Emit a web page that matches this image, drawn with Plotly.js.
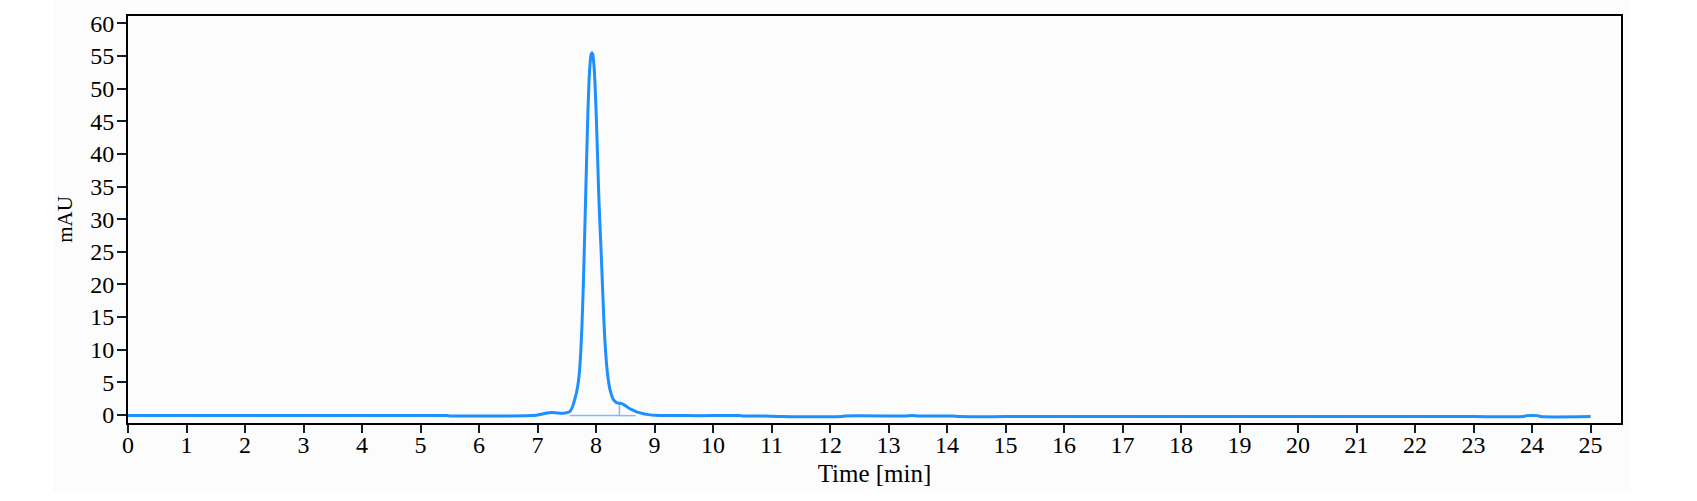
<!DOCTYPE html>
<html>
<head>
<meta charset="utf-8">
<script src="https://cdn.plot.ly/plotly-3.0.1.min.js"></script>
<style>
  html, body { margin: 0; padding: 0; background: #ffffff; width: 1697px; height: 501px; overflow: hidden; }
  #chart { position: absolute; left: 53px; top: 0px; width: 1577px; height: 492px; }
</style>
</head>
<body>
<div id="chart"></div>
<script>
// Chromatogram signal (time in min, absorbance in mAU)
const timeMin = [
  0, 1, 2, 3, 4, 5, 5.45, 5.5, 6, 6.5, 6.9,
  7.00, 7.10, 7.20, 7.30, 7.40, 7.48, 7.55, 7.60, 7.64, 7.67, 7.70, 7.72, 7.74, 7.76, 7.78,
  7.80, 7.82, 7.84, 7.86, 7.88, 7.90, 7.915, 7.931, 7.947, 7.965, 7.985, 8.005, 8.025,
  8.045, 8.065, 8.085, 8.105, 8.125, 8.145, 8.165, 8.185, 8.205, 8.225, 8.25, 8.275,
  8.30, 8.35, 8.40, 8.44, 8.48, 8.53, 8.58, 8.64, 8.72, 8.81, 8.90, 9.00,
  9.5, 10, 10.45, 10.5, 10.9, 11.0, 11.15, 12.2, 12.25, 13.3, 13.4, 13.5, 14.1, 14.2,
  15, 16, 17, 18, 19, 20, 21, 22, 23, 23.85, 23.9, 24.1, 24.15, 25.0
];
const signalMAU = [
  -0.1, -0.1, -0.1, -0.1, -0.1, -0.1, -0.1, -0.15, -0.15, -0.15, -0.1,
  0.0, 0.2, 0.35, 0.35, 0.25, 0.3, 0.5, 1.3, 2.5, 3.6, 5.2, 7.0, 9.8, 13.8, 19.0,
  25.5, 32.5, 39.5, 46.0, 51.0, 54.0, 55.2, 55.5, 55.1, 53.5, 50.2, 45.5, 40.0,
  34.2, 29.5, 25.5, 21.0, 16.5, 12.5, 9.5, 7.3, 5.7, 4.5, 3.5, 2.8,
  2.3, 1.9, 1.8, 1.75, 1.55, 1.25, 0.95, 0.7, 0.4, 0.2, 0.05, -0.05,
  -0.1, -0.1, -0.1, -0.15, -0.15, -0.2, -0.25, -0.25, -0.15, -0.15, -0.1, -0.15, -0.15, -0.25,
  -0.25, -0.25, -0.25, -0.25, -0.25, -0.25, -0.25, -0.25, -0.25, -0.25, -0.1, -0.1, -0.25, -0.25
];
// Integration baseline and peak split marker
const intTime = [7.55, 8.40, null, 8.40, 8.40, null, 8.40, 8.68];
const intMAU  = [-0.1, -0.1, null, -0.1, 1.8, null, -0.1, -0.1];

const xTickVals = [0,1,2,3,4,5,6,7,8,9,10,11,12,13,14,15,16,17,18,19,20,21,22,23,24,25];
const yTickVals = [0,5,10,15,20,25,30,35,40,45,50,55,60];

const traces = [
  {
    x: intTime, y: intMAU, type: 'scatter', mode: 'lines',
    line: { color: '#7fbcff', width: 1.5 }, hoverinfo: 'skip', showlegend: false
  },
  {
    x: timeMin, y: signalMAU, type: 'scatter', mode: 'lines',
    line: { color: '#1e8fff', width: 3, shape: 'spline', smoothing: 0.6 }, showlegend: false
  }
];

const tickFont = { family: 'Liberation Serif, Times New Roman, serif', size: 24, color: '#000000' };

const layout = {
  width: 1577, height: 492,
  margin: { l: 75, r: 9, t: 16, b: 69, pad: 0 },
  paper_bgcolor: '#fcfcfc',
  plot_bgcolor: '#fcfcfc',
  showlegend: false,
  xaxis: {
    range: [0, 25.52],
    tickvals: xTickVals,
    ticktext: xTickVals.map(String),
    ticks: 'outside', ticklen: 8, tickwidth: 2, tickcolor: '#0d1e30',
    ticklabelstandoff: -9,
    showline: true, linecolor: '#000000', linewidth: 2, mirror: true,
    showgrid: false, zeroline: false,
    tickfont: tickFont,
    title: { text: 'Time [min]', font: { family: 'Liberation Serif, serif', size: 25, color: '#000000' }, standoff: 8 },
    automargin: false
  },
  yaxis: {
    range: [-1.23, 61.12],
    tickvals: yTickVals,
    ticktext: yTickVals.map(String),
    ticks: 'outside', ticklen: 9, tickwidth: 2, tickcolor: '#0d1e30',
    ticklabelstandoff: -2,
    showline: true, linecolor: '#000000', linewidth: 2, mirror: true,
    showgrid: false, zeroline: false,
    tickfont: tickFont,
    title: { text: 'mAU', font: { family: 'Liberation Serif, serif', size: 21, color: '#000000' }, standoff: 14 },
    automargin: false
  }
};

Plotly.newPlot('chart', traces, layout, { displayModeBar: false, staticPlot: true });
</script>
</body>
</html>
